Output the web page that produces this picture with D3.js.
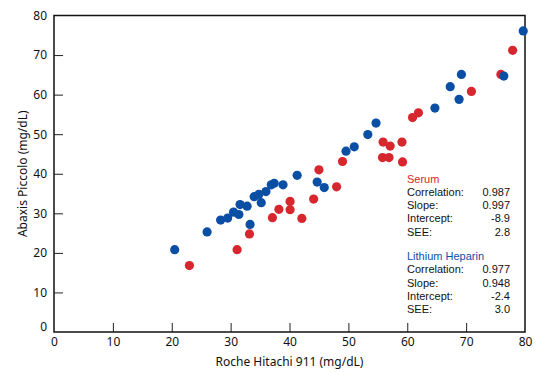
<!DOCTYPE html>
<html>
<head>
<meta charset="utf-8">
<script src="https://cdn.jsdelivr.net/npm/d3@7"></script>
<style>
  body { margin: 0; background: #fff; }
  svg { display: block; font-family: "Noto Sans", sans-serif; }
</style>
</head>
<body>
<svg></svg>
<script>
// Roche Hitachi 911 (x) vs Abaxis Piccolo (y), mg/dL
let serumX = [23.0, 31.1, 33.2, 37.1, 38.2, 40.1, 40.1, 42.1, 44.1, 45.0, 48.0, 49.0,
	55.8, 55.9, 56.9, 57.1, 59.1, 59.2, 60.9, 61.9, 70.9, 75.9, 77.9];
let serumY = [16.8, 20.8, 24.8, 28.9, 31.0, 33.0, 30.9, 28.7, 33.6, 41.0, 36.7, 43.1,
	44.1, 48.0, 44.1, 47.0, 48.0, 43.0, 54.2, 55.4, 60.8, 65.1, 71.2];

let heparinX = [20.5, 26.0, 28.3, 29.5, 30.5, 31.4, 31.6, 32.8, 33.3, 34.0, 34.8, 35.2,
	36.0, 36.9, 37.4, 38.9, 41.3, 44.7, 45.9, 49.6, 51.0, 53.3, 54.7, 64.7, 67.3, 68.8,
	69.2, 76.4, 79.7];
let heparinY = [20.8, 25.3, 28.3, 28.8, 30.3, 29.7, 32.2, 31.8, 27.2, 34.2, 34.8, 32.7,
	35.5, 37.2, 37.6, 37.2, 39.6, 37.9, 36.5, 45.7, 46.8, 49.9, 52.8, 56.6, 62.0, 58.8,
	65.1, 64.7, 76.1];

let axisTicks = [0, 10, 20, 30, 40, 50, 60, 70, 80];

let statLabels = ["Correlation:", "Slope:", "Intercept:", "SEE:"];
let serumStats = ["0.987", "0.997", "-8.9", "2.8"];
let heparinStats = ["0.977", "0.948", "-2.4", "3.0"];

let red = "#d7262e";
let blue = "#0b4fa4";

let W = 540, H = 372;
let margin = { top: 15.5, right: 15, bottom: 40, left: 54 };
let width = W - margin.left - margin.right;
let height = H - margin.top - margin.bottom;

let svg = d3.select("svg").attr("width", W).attr("height", H);
let g = svg.append("g").attr("transform", "translate(" + margin.left + "," + margin.top + ")");

let scaleX = d3.scaleLinear().domain([0, 80]).range([0, width]);
let scaleY = d3.scaleLinear().domain([0, 80]).range([height, 0]);

// frame
g.append("rect")
	.attr("width", width).attr("height", height)
	.attr("fill", "none").attr("stroke", "#111").attr("stroke-width", 1.5);

// x axis, ticks pointing inward
let xAxis = g.append("g")
	.attr("transform", "translate(0," + height + ")")
	.call(d3.axisBottom(scaleX).tickValues(axisTicks).tickSizeInner(-9).tickSizeOuter(0).tickPadding(5));
xAxis.select(".domain").remove();
xAxis.selectAll(".tick line").attr("stroke", "#222");
xAxis.selectAll(".tick").filter(d => d === 0 || d === 80).select("line").remove();
xAxis.selectAll("text").attr("font-size", 12).attr("fill", "#111")
	.attr("font-family", "Noto Sans");

// y axis
let yAxis = g.append("g")
	.call(d3.axisLeft(scaleY).tickValues(axisTicks).tickSizeInner(-9).tickSizeOuter(0).tickPadding(7));
yAxis.select(".domain").remove();
yAxis.selectAll(".tick line").attr("stroke", "#222");
yAxis.selectAll(".tick").filter(d => d === 0 || d === 80).select("line").remove();
yAxis.selectAll("text").attr("font-size", 12).attr("fill", "#111")
	.attr("font-family", "Noto Sans");
yAxis.selectAll(".tick").filter(d => d === 0).select("text").attr("dy", "-0.1em");

// axis titles
svg.append("text")
	.attr("x", margin.left + width / 2).attr("y", 366)
	.attr("text-anchor", "middle").attr("font-size", 12).attr("fill", "#111")
	.text("Roche Hitachi 911 (mg/dL)");
svg.append("text")
	.attr("transform", "translate(27," + (margin.top + height / 2) + ") rotate(-90)")
	.attr("text-anchor", "middle").attr("font-size", 12).attr("fill", "#111")
	.text("Abaxis Piccolo (mg/dL)");

// points: serum first, heparin drawn on top
g.append("g").attr("fill", red)
	.selectAll("circle").data(d3.range(serumX.length)).join("circle")
	.attr("cx", i => scaleX(serumX[i])).attr("cy", i => scaleY(serumY[i])).attr("r", 4.6);
g.append("g").attr("fill", blue)
	.selectAll("circle").data(d3.range(heparinX.length)).join("circle")
	.attr("cx", i => scaleX(heparinX[i])).attr("cy", i => scaleY(heparinY[i])).attr("r", 4.6);

// stats blocks (narrower font with tighter line box)
function statBlock(title, colour, values, y0) {
	let b = svg.append("g").attr("font-size", 11).attr("font-family", "Liberation Sans");
	b.append("text").attr("x", 407).attr("y", y0).attr("fill", colour).text(title);
	statLabels.forEach((lab, i) => {
		let y = y0 + 13.3 * (i + 1);
		b.append("text").attr("x", 407).attr("y", y).attr("fill", "#111").text(lab);
		b.append("text").attr("x", 510).attr("y", y).attr("fill", "#111")
			.attr("text-anchor", "end").text(values[i]);
	});
}
statBlock("Serum", red, serumStats, 182.5);
statBlock("Lithium Heparin", blue, heparinStats, 260);
</script>
</body>
</html>
